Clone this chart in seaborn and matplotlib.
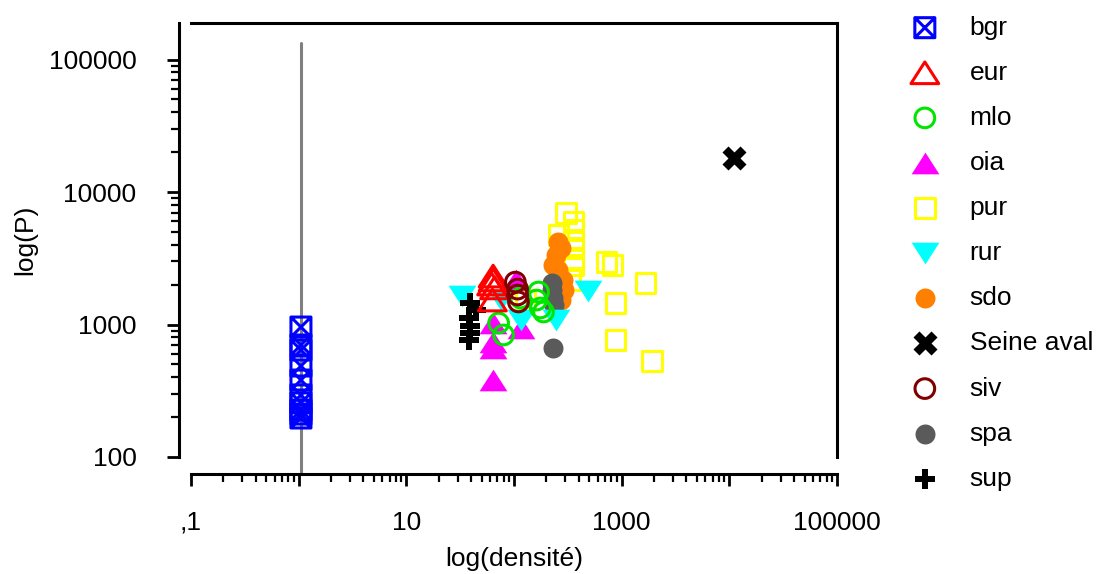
import matplotlib
matplotlib.use("Agg")
import matplotlib.pyplot as plt
import seaborn as sns
from matplotlib.path import Path
from matplotlib.markers import MarkerStyle
from matplotlib.ticker import FixedLocator, FixedFormatter, LogLocator, NullFormatter

sns.set_theme(style="ticks")
plt.rcParams["font.family"] = ["Liberation Sans", "DejaVu Sans"]
plt.rcParams["text.color"] = "black"
plt.rcParams["axes.labelcolor"] = "black"
plt.rcParams["xtick.color"] = "black"
plt.rcParams["ytick.color"] = "black"

# ---- data: density vs P, per site ----
groups = ["bgr", "eur", "mlo", "oia", "pur", "rur", "sdo", "Seine aval", "siv", "spa", "sup"]

bgr_dens = [1.05, 1.05, 1.05, 1.05, 1.05, 1.05, 1.05, 1.05, 1.05, 1.05]
bgr_P = [957, 700, 642, 486, 381, 294, 256, 226, 211, 197]

eur_dens = [64, 64, 62, 66, 63]
eur_P = [2320, 2170, 2020, 1890, 1530]

mlo_dens = [72, 80, 169, 162, 176, 188, 115]
mlo_P = [1026, 834, 1760, 1530, 1333, 1243, 1585]

oia_dens = [64, 64, 64, 64, 115, 105]
oia_P = [381, 664, 738, 1026, 941, 2170]

pur_dens = [302, 357, 357, 259, 357, 357, 357, 357, 335, 725, 824, 1671, 879, 879, 1901, 128]
pur_P = [6950, 5940, 5170, 4740, 4340, 3780, 3180, 2810, 2170, 2970, 2810, 2060, 1450, 764, 530, 1530]

rur_dens = [33, 75, 115, 243, 483]
rur_P = [1640, 1530, 1080, 1080, 1790]

sdo_dens = [254, 271, 243, 228, 259, 283, 289, 271]
sdo_P = [4190, 3780, 3350, 2810, 2580, 2170, 1820, 1530]

seine_dens = [11000]
seine_P = [18000]

siv_dens = [103, 108, 108, 110]
siv_P = [2090, 1850, 1670, 1480]

spa_dens = [223, 223, 228, 233, 228]
spa_P = [2060, 1820, 1590, 1400, 664]

sup_dens = [39, 44, 38, 39, 39, 38]
sup_P = [1450, 1290, 1120, 975, 862, 764]

ref_density = 1.05

x_tick_values = [0.1, 1, 10, 100, 1000, 10000, 100000]
x_tick_labels = [",1", "", "10", "", "1000", "", "100000"]
y_tick_values = [100, 1000, 10000, 100000]
y_tick_labels = ["100", "1000", "10000", "100000"]

# ---- custom marker shapes ----
box_x = Path(
    [(-1, -1), (1, -1), (1, 1), (-1, 1), (-1, -1), (-1, -1), (1, 1), (-1, 1), (1, -1)],
    [Path.MOVETO, Path.LINETO, Path.LINETO, Path.LINETO, Path.CLOSEPOLY,
     Path.MOVETO, Path.LINETO, Path.MOVETO, Path.LINETO],
)
tri_up = Path([(0, 0.78), (-1, -0.78), (1, -0.78), (0, 0.78)],
              [Path.MOVETO, Path.LINETO, Path.LINETO, Path.CLOSEPOLY])
tri_down = Path([(0, -0.78), (-1, 0.78), (1, 0.78), (0, -0.78)],
                [Path.MOVETO, Path.LINETO, Path.LINETO, Path.CLOSEPOLY])

# name: (x, y, marker, size, colour, filled, zorder)
styles = {
    "bgr": (bgr_dens, bgr_P, MarkerStyle(box_x), 207, "#0000ff", False, 3),
    "pur": (pur_dens, pur_P, "s", 200, "#ffff00", False, 3),
    "sdo": (sdo_dens, sdo_P, "o", 207, "#ff8000", True, 4),
    "spa": (spa_dens, spa_P, "o", 207, "#5a5a5a", True, 5),
    "oia": (oia_dens, oia_P, MarkerStyle(tri_up), 400, "#ff00ff", True, 4),
    "rur": (rur_dens, rur_P, MarkerStyle(tri_down), 400, "#00ffff", True, 5),
    "mlo": (mlo_dens, mlo_P, "o", 200, "#00e600", False, 6),
    "sup": (sup_dens, sup_P, "P", 210, "#000000", True, 6),
    "eur": (eur_dens, eur_P, MarkerStyle(tri_up), 400, "#ff0000", False, 7),
    "siv": (siv_dens, siv_P, "o", 200, "#800000", False, 7),
    "Seine aval": (seine_dens, seine_P, "X", 300, "#000000", True, 8),
}

fig = plt.figure(figsize=(10.98, 5.74), dpi=100)
ax = fig.add_axes([191 / 1098, 1 - 457 / 574, 646 / 1098, 434 / 574])
ax.set_xscale("log")
ax.set_yscale("log")

ax.axvline(ref_density, ymin=-0.039, ymax=0.954, color="#808080", lw=2.2,
           clip_on=False, zorder=1)

handles = {}
for name, (xs, ys, mk, size, col, filled, z) in styles.items():
    sns.scatterplot(
        x=xs, y=ys, ax=ax, marker=mk, s=size,
        facecolor=col if filled else "none", edgecolor=col,
        linewidth=0 if filled else 2.2, label=name, zorder=z, legend=False,
    )
    handles[name] = ax.collections[-1]

ax.set_xlim(0.1, 100000)
ax.set_ylim(100, 188700)

ax.xaxis.set_major_locator(FixedLocator(x_tick_values))
ax.xaxis.set_major_formatter(FixedFormatter(x_tick_labels))
ax.xaxis.set_minor_locator(LogLocator(base=10, subs=range(2, 10), numticks=50))
ax.xaxis.set_minor_formatter(NullFormatter())
ax.yaxis.set_major_locator(FixedLocator(y_tick_values))
ax.yaxis.set_major_formatter(FixedFormatter(y_tick_labels))
ax.yaxis.set_minor_locator(LogLocator(base=10, subs=range(2, 10), numticks=50))
ax.yaxis.set_minor_formatter(NullFormatter())

for sp in ax.spines.values():
    sp.set_visible(True)
    sp.set_linewidth(2.2)
    sp.set_color("black")
ax.spines["left"].set_position(("outward", 8.6))
ax.spines["bottom"].set_position(("outward", 12.2))

ax.tick_params(axis="both", which="major", direction="out", length=8.6, width=2,
               color="black", labelsize=19, labelcolor="black")
ax.tick_params(axis="both", which="minor", direction="out", length=5.5, width=1.6,
               color="black")
ax.tick_params(axis="x", which="major", pad=18)
ax.tick_params(axis="y", which="major", pad=22)
ax.tick_params(left=True, bottom=True, top=False, right=False, which="both")

ax.set_xlabel("log(densité)", fontsize=19, labelpad=9, color="black")
ax.set_ylabel("log(P)", fontsize=19, labelpad=8, color="black")
ax.grid(False)

leg = ax.legend(
    [handles[g] for g in groups], groups,
    loc="upper left", bbox_to_anchor=(909 / 1098, 0.9728), bbox_transform=fig.transFigure,
    frameon=False, fontsize=19, labelspacing=0.80, handlelength=1.2, handletextpad=1.1,
    borderpad=0, borderaxespad=0, scatterpoints=1,
)
for t in leg.get_texts():
    t.set_color("black")

fig.savefig("out.png", dpi=100)
